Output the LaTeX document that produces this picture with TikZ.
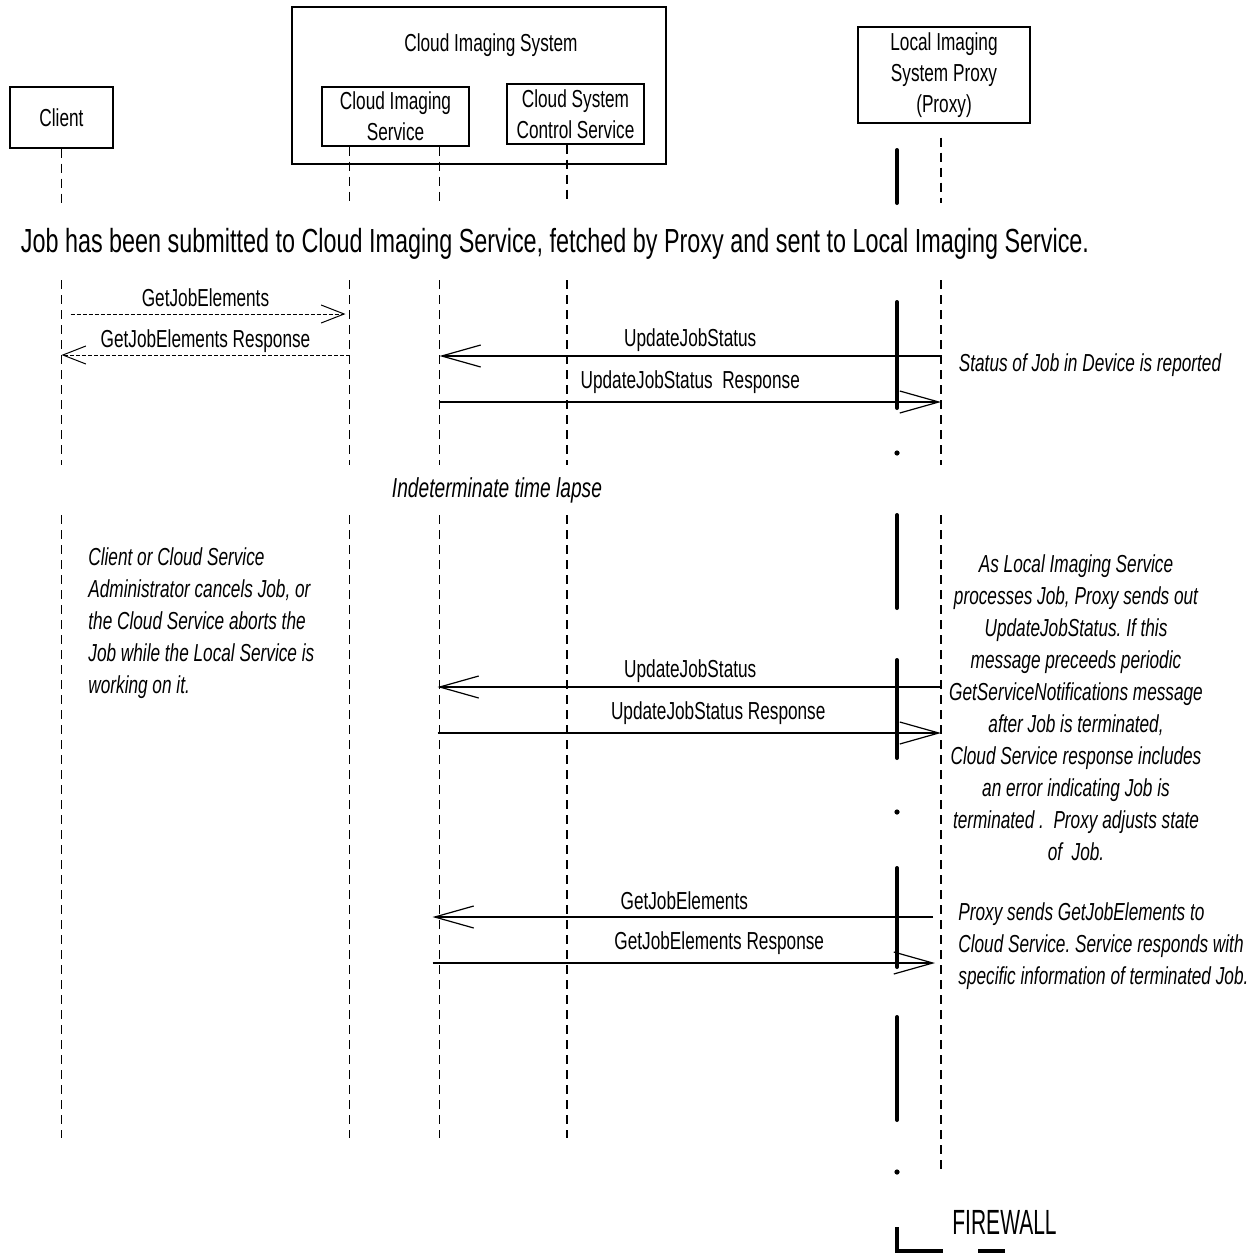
\documentclass[tikz,border=0pt]{standalone}
\usepackage{fontspec}
\setmainfont{Liberation Sans}[FakeStretch=0.7]
\newfontfamily\fwfont{Liberation Sans}[FakeStretch=0.6]
\usetikzlibrary{arrows.meta}
\newcommand\lblfont{\fontsize{12.3}{15.5}\selectfont}
\newcommand\notefont{\fontsize{12.3}{16}\selectfont\itshape}
\frenchspacing

\begin{document}
\begin{tikzpicture}[x=0.5pt,y=-0.5pt,
        box/.style={draw,line width=0.7pt,inner sep=0pt,align=center,font=\lblfont},
        life/.style={line width=0.6pt,dash pattern=on 4.5pt off 3pt},
        bar/.style={line width=2pt,line cap=round},
        call/.style={line width=0.6pt,-{Straight Barb[length=19.5pt,width=11pt]}},
        ask/.style={line width=0.5pt,dash pattern=on 2pt off 1pt,-{Straight Barb[length=11.5pt,width=9pt]}},
        lbl/.style={midway,yshift=8pt,font=\lblfont},
        note/.style={inner sep=0pt,font=\notefont}]
    \useasboundingbox (0,0) rectangle (1258,1253);
        %boxes
        \node[box,minimum width=187pt,minimum height=78.5pt,line width=1.2pt] (cloud) at (479,85.5) {};
        \node[font=\lblfont] (cloudname) at (491,45) {Cloud Imaging System};
        \node[box,minimum width=51.5pt,minimum height=30.5pt] (client) at (61.5,117.5) {Client};
        \node[box,minimum width=73.5pt,minimum height=29.5pt] (cis) at (395.5,116.5) {Cloud Imaging\\Service};
        \node[box,minimum width=68.5pt,minimum height=30pt] (cscs) at (575.5,114) {Cloud System\\Control Service};
        \node[box,minimum width=86pt,minimum height=48pt] (proxy) at (944,75) {Local Imaging\\System Proxy\\(Proxy)};
        \coordinate (cisL) at ([xshift=-23pt]cis.south);
        \coordinate (cisR) at ([xshift=22pt]cis.south);
        \coordinate (ctl) at ([xshift=-4.25pt]cscs.south);
        \coordinate (prx) at ([xshift=-1.5pt,yshift=-7pt]proxy.south);
        %rows
        \coordinate (t1) at (0,203);
        \coordinate (t2) at (0,280);
        \coordinate (t3) at (0,465);
        \coordinate (t4) at (0,515);
        \coordinate (t5) at (0,1138);
        \coordinate (t6) at (0,1175);
        %lifelines
        \foreach \l in {client.south,cisL,cisR,ctl} {
            \draw[life] (\l) -- (\l |- t1);
            \draw[life] (\l |- t2) -- (\l |- t3);
            \draw[life] (\l |- t4) -- (\l |- t5);
        }
        \draw[life] (prx) -- (prx |- t1);
        \draw[life] (prx |- t2) -- (prx |- t3);
        \draw[life] (prx |- t4) -- (prx |- t6);
        %firewall
        \foreach \a/\b in {150/203,302/408,515/608,660/758,868/967,1017/1120}
            \draw[bar] (897,\a) -- (897,\b);
        \foreach \d in {453,812,1172}
            \fill (897,\d) circle (1.3pt);
        \draw[line width=2pt] (897,1227) -- (897,1251) -- (943,1251);
        \draw[line width=1.6pt] (978,1251) -- (1005,1251);
        \node[font=\fwfont\fontsize{17.5}{17.5}\selectfont,anchor=south west,inner sep=0pt] (fw) at (952,1235) {FIREWALL};
        %texts
        \node[font=\fontsize{16.7}{20}\selectfont] (head) at (555,244) {Job has been submitted to Cloud Imaging Service, fetched by Proxy and sent to Local Imaging Service.};
        \node[note] (status) at (1090,365) {Status of Job in Device is reported};
        \node[note,font=\fontsize{13.7}{16}\selectfont\itshape] (lapse) at (497,490) {Indeterminate time lapse};
        \node[note,anchor=west,align=left] (cancel) at (88,623) {Client or Cloud Service\\Administrator cancels Job, or\\the Cloud Service aborts the\\Job while the Local Service is\\working on it.};
        \node[note,align=center] (process) at (1076,708) {As Local Imaging Service\\processes Job, Proxy sends out\\UpdateJobStatus. If this\\message preceeds periodic\\GetServiceNotifications message\\after Job is terminated,\\Cloud Service response includes\\an error indicating Job is\\terminated .\ \ Proxy adjusts state\\of\ \ Job.};
        \node[note,anchor=west,align=left] (fetch) at (958,946) {Proxy sends GetJobElements to\\Cloud Service. Service responds with\\specific information of terminated Job.};
        %messages
        \coordinate (r1) at (0,314);
        \coordinate (r2) at (0,355);
        \coordinate (r3) at (0,356);
        \coordinate (r4) at (0,402);
        \coordinate (r5) at (0,687);
        \coordinate (r6) at (0,733);
        \coordinate (r7) at (0,917);
        \coordinate (r8) at (0,963);
        \draw[ask,shorten <=4.5pt,shorten >=2pt] (client.south |- r1) -- node[lbl] {GetJobElements} (cisL |- r1);
        \draw[ask] (cisL |- r2) -- node[lbl,yshift=-1pt] {GetJobElements Response} (client.south |- r2);
        \draw[call] (prx |- r3) -- node[lbl] {UpdateJobStatus} (cisR |- r3);
        \draw[call] (cisR |- r4) -- node[lbl,yshift=2pt] {UpdateJobStatus\ \ Response} (prx |- r4);
        \draw[call,shorten >=-1pt] (prx |- r5) -- node[lbl] {UpdateJobStatus} (cisR |- r5);
        \draw[call,shorten <=-1pt] (cisR |- r6) -- node[lbl,xshift=14pt,yshift=2pt] {UpdateJobStatus Response} (prx |- r6);
        \draw[call,shorten <=4pt,shorten >=-3.5pt] (prx |- r7) -- node[lbl,xshift=-3pt] {GetJobElements} (cisR |- r7);
        \draw[call,shorten <=-3.5pt,shorten >=3pt] (cisR |- r8) -- node[lbl,xshift=14.5pt,yshift=2pt] {GetJobElements Response} (prx |- r8);
\end{tikzpicture}
\end{document}
